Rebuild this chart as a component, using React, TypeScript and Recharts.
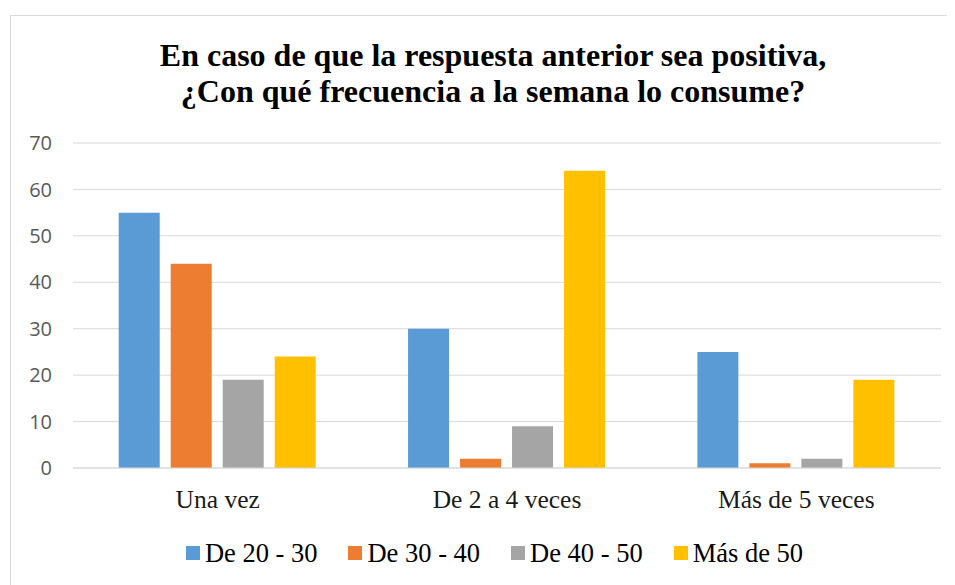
import React from "react";
import { BarChart, Bar, XAxis, YAxis, CartesianGrid, Legend } from "recharts";

const categories = ["Una vez", "De 2 a 4 veces", "Más de 5 veces"];
const seriesNames = ["De 20 - 30", "De 30 - 40", "De 40 - 50", "Más de 50"];
const de20a30 = [55, 30, 25];
const de30a40 = [44, 2, 1];
const de40a50 = [19, 9, 2];
const mas50 = [24, 64, 19];
const yTicks = [0, 10, 20, 30, 40, 50, 60, 70];
const colors = ["#5B9BD5", "#ED7D31", "#A5A5A5", "#FFC000"];

const seriesValues = [de20a30, de30a40, de40a50, mas50];
const data = categories.map((c, i) => {
  const row: Record<string, string | number> = { name: c };
  seriesNames.forEach((s, j) => {
    row[s] = seriesValues[j][i];
  });
  return row;
});

const W = 945;
const H = 570;

const LegendContent = () => (
  <div
    style={{
      display: "flex",
      justifyContent: "center",
      alignItems: "center",
      paddingLeft: 24,
      fontFamily: "'Liberation Serif', 'Times New Roman', serif",
      fontSize: 26.5,
      color: "#000",
      lineHeight: "30px",
    }}
  >
    {seriesNames.map((s, i) => (
      <div
        key={s}
        style={{
          display: "flex",
          alignItems: "center",
          marginRight: i < seriesNames.length - 1 ? 31 : 0,
        }}
      >
        <span
          style={{
            display: "inline-block",
            width: 14,
            height: 14,
            background: colors[i],
            marginRight: 5,
          }}
        />
        <span>{s}</span>
      </div>
    ))}
  </div>
);

export default function App() {
  return (
    <div
      style={{
        position: "relative",
        width: W,
        height: H,
        marginLeft: 2,
        marginTop: 7,
        borderTop: "1px solid #D9D9D9",
        borderLeft: "1px solid #D9D9D9",
        boxSizing: "border-box",
        background: "#fff",
      }}
    >
      <div
        style={{
          position: "absolute",
          left: 0,
          top: 21,
          width: W,
          paddingLeft: 19,
          boxSizing: "border-box",
          textAlign: "center",
          fontFamily: "'Liberation Serif', 'Times New Roman', serif",
          fontWeight: "bold",
          fontSize: 32,
          lineHeight: "36px",
          color: "#000",
        }}
      >
        En caso de que la respuesta anterior sea positiva,
        <br />
        ¿Con qué frecuencia a la semana lo consume?
      </div>
      <div style={{ position: "absolute", left: -1, top: -1 }}>
        <BarChart
          width={W}
          height={H}
          data={data}
          margin={{ top: 128, right: 14, bottom: 77, left: 0 }}
          barCategoryGap="15.8%"
          barGap={11}
        >
          <CartesianGrid vertical={false} stroke="#D9D9D9" strokeWidth={1} />
          <XAxis
            dataKey="name"
            height={40}
            axisLine={{ stroke: "#D9D9D9", strokeWidth: 1 }}
            tickLine={false}
            tickSize={0}
            tickMargin={22}
            tick={{
              fill: "#1a1a1a",
              fontSize: 25.5,
              fontFamily: "'Liberation Serif', 'Times New Roman', serif",
            }}
            interval={0}
          />
          <YAxis
            width={63}
            domain={[0, 70]}
            ticks={yTicks}
            axisLine={false}
            tickLine={false}
            tickSize={0}
            tickMargin={21}
            tick={{
              fill: "#595959",
              fontSize: 20,
              fontFamily: "'Open Sans', sans-serif",
            }}
          />
          <Legend
            verticalAlign="middle"
            align="center"
            layout="horizontal"
            content={<LegendContent />}
            wrapperStyle={{ position: "absolute", top: 523, left: 0, width: W }}
          />
          {seriesNames.map((s, i) => (
            <Bar key={s} dataKey={s} fill={colors[i]} isAnimationActive={false} />
          ))}
        </BarChart>
      </div>
    </div>
  );
}
